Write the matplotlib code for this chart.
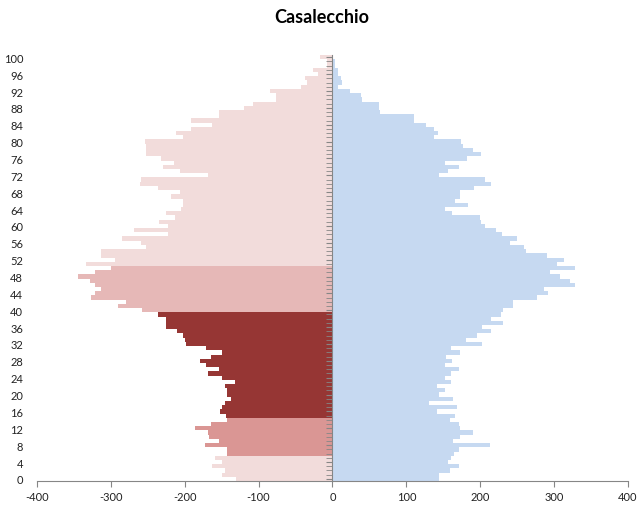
import numpy as np
import matplotlib
matplotlib.use("Agg")
import matplotlib.pyplot as plt

plt.rcParams['font.family'] = ['Lato', 'DejaVu Sans']
plt.rcParams['axes.unicode_minus'] = False

# eta' 0..100
eta = np.arange(0, 101)

# lato sinistro (valori negativi)
sinistra = [-131, -150, -146, -163, -149, -159, -143, -143, -173, -154,
            -167, -168, -186, -164, -143, -144, -152, -150, -145, -138,
            -143, -143, -145, -132, -150, -168, -154, -171, -179, -165,
            -150, -171, -198, -200, -202, -210, -225, -225, -225, -236,
            -258, -291, -279, -327, -322, -314, -321, -328, -344, -322,
            -300, -334, -294, -314, -314, -252, -259, -285, -222, -269,
            -222, -235, -213, -226, -205, -202, -202, -218, -206, -236,
            -261, -259, -168, -206, -229, -214, -232, -253, -253, -253,
            -254, -203, -212, -192, -163, -192, -153, -153, -120, -108,
            -77, -77, -84, -43, -34, -37, -19, -27, -8, -8,
            -17]

# lato destro
destra = [144, 144, 159, 171, 157, 161, 164, 171, 213, 163,
          173, 190, 173, 171, 159, 166, 141, 168, 131, 163,
          144, 153, 141, 160, 153, 161, 171, 152, 162, 154,
          173, 160, 202, 181, 196, 215, 203, 231, 214, 228,
          231, 244, 245, 277, 292, 287, 328, 322, 308, 294,
          328, 304, 313, 291, 262, 260, 240, 250, 229, 222,
          206, 201, 200, 162, 152, 183, 166, 172, 173, 191,
          214, 207, 144, 156, 171, 152, 182, 201, 190, 177,
          174, 138, 143, 137, 126, 111, 111, 64, 63, 63,
          40, 38, 24, 7, 13, 11, 8, 7, 4, 3,
          1]

# fasce di eta' colorate a sinistra: (da, a, colore)
fasce = [(0, 5, '#F2DCDB'), (6, 14, '#DA9694'), (15, 39, '#963634'),
         (40, 50, '#E6B8B7'), (51, 100, '#F2DCDB')]
colore_destra = '#C6D9F1'

colori_sx = []
for a in eta:
    for da, fino, c in fasce:
        if da <= a <= fino:
            colori_sx.append(c)

fig = plt.figure(figsize=(6.44, 5.06), dpi=100)
ax = fig.add_axes([0.0575, 0.0474, 0.9175, 0.8416])

ax.barh(eta, sinistra, height=1.0, color=colori_sx, linewidth=0)
ax.barh(eta, destra, height=1.0, color=colore_destra, linewidth=0)

ax.set_xlim(-400, 400)
ax.set_ylim(-0.5, 100.5)

grigio = '#868686'
ax.spines['top'].set_visible(False)
ax.spines['right'].set_visible(False)
ax.spines['bottom'].set_color(grigio)
ax.spines['left'].set_position(('data', 0))
ax.spines['left'].set_color(grigio)

ax.set_xticks(np.arange(-400, 401, 100))
ax.tick_params(axis='x', direction='out', length=4, color=grigio, labelsize=8,
               pad=3, labelcolor='#222222')

ax.set_yticks(np.arange(0, 101, 4))
ax.set_yticks(eta, minor=True)
ax.tick_params(axis='y', which='both', direction='out', length=4, color=grigio,
               labelleft=False)

sec = ax.secondary_yaxis(0.0)
sec.set_yticks(np.arange(0, 101, 4))
sec.spines['left'].set_visible(False)
sec.tick_params(axis='y', length=0, labelsize=8, pad=10, labelcolor='#222222')

fig.text(0.5, 0.965, 'Casalecchio', ha='center', va='center',
         fontsize=13, fontweight='bold')

fig.savefig('out.png', dpi=100)
